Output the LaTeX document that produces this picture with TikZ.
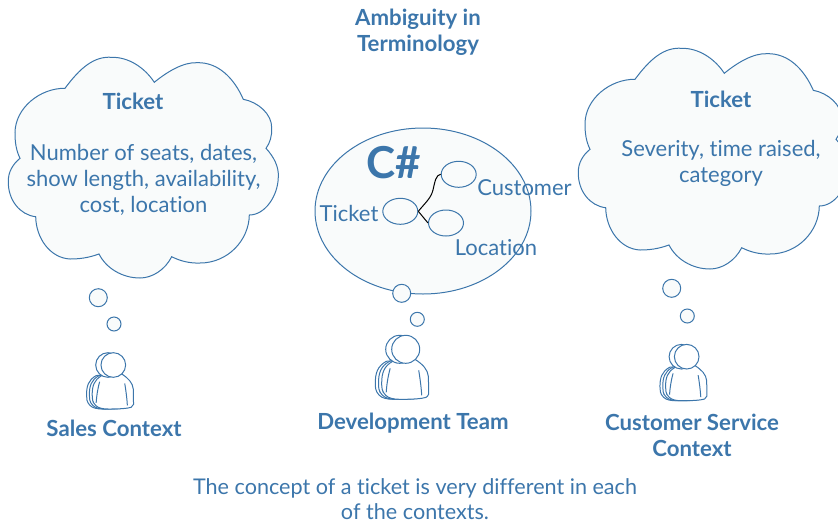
\documentclass[tikz,border=0pt]{standalone}
\usepackage{fontspec}
\setmainfont[Ligatures=NoCommon]{Lato}
\usetikzlibrary{shapes.geometric}
\definecolor{inkblue}{HTML}{3C76AB}
\definecolor{bubble}{HTML}{F9FBFB}
\tikzset{
  x=1pt,y=-1pt,
  outline/.style = {draw=inkblue,line width=1pt,fill=bubble},
  puff/.style = {circle,outline,inner sep=0pt},
  slot/.style = {ellipse,draw=inkblue,line width=1pt,minimum width=35pt,minimum height=26pt,inner sep=0pt},
  txt/.style = {text=inkblue,font=\fontsize{22}{26}\selectfont,align=center,inner sep=0pt},
  head/.style = {txt,font=\fontsize{22.2}{26}\selectfont\bfseries},
  cloud blob/.pic = {
    \draw[outline] (65,88.3)
      .. controls (80,68) and (94,56) .. (111.7,57.3) .. controls (129,57) and (145,68) .. (154.3,82.3)
      .. controls (168,71) and (184,62) .. (197,62.7) .. controls (218,62) and (234,78) .. (243.3,99.3)
      .. controls (258,102) and (272,114) .. (271.7,128) .. controls (272,136) and (270,143) .. (266,148.3)
      .. controls (274,157) and (279,167) .. (278.3,177) .. controls (278,196) and (265,215) .. (249.3,215)
      .. controls (249,240) and (228,263) .. (200,263) .. controls (190,263.5) and (180,261) .. (171.7,256.7)
      .. controls (165,270) and (152,278) .. (140,278) .. controls (122,278) and (106,268) .. (99,254)
      .. controls (88,258) and (79,259) .. (70,259) .. controls (50,258) and (36,238) .. (35.7,216.7)
      .. controls (20,215) and (8,200) .. (8.3,181.7) .. controls (8,172) and (13,164) .. (20,158.3)
      .. controls (16,150) and (15,142) .. (15,133) .. controls (15,108) and (40,88) .. (65,88.3) -- cycle;
  },
  person/.pic = {
    \foreach \m in {2,1,0} {%
      \begin{scope}[shift={({-\m*3.2},0)}]
        \draw[draw=inkblue,line width=1pt,fill=white] (9.3,10)
          .. controls (17,15) and (22,20) .. (22.7,27.3) -- (23,44.7)
          .. controls (22,48) and (19,49) .. (16,49) .. controls (8,50) and (2,50) .. (-5.7,50)
          .. controls (-12,50) and (-17,49) .. (-20,46) .. controls (-24,42) and (-24,38) .. (-24,34)
          .. controls (-24,24) and (-22,17) .. (-13,12) -- cycle;
        \draw[inkblue,line width=1pt] (-15.5,19) .. controls (-18,28) and (-19,36) .. (-19.5,43);
      \end{scope}
    }
    \draw[inkblue,line width=1pt] (13,21) .. controls (14.5,30) and (15.5,38) .. (16,46);
    \foreach \m in {2,0} {%
      \draw[draw=inkblue,line width=1pt,fill=white] ({-\m*3},0) circle (14);
    }
  }
}

\begin{document}
\begin{tikzpicture}
  \useasboundingbox (0,0) rectangle (838,523);
  \clip (0,0) rectangle (838,523);
  % title
  \node[head] (title) at (418,32) {Ambiguity in\\Terminology};
  % clouds
  \pic {cloud blob};
  \pic at (570,-9) {cloud blob};
  \node[head] (salesticket) at (133,101) {Ticket};
  \node[txt] (salesinfo) at (143.5,180) {Number of seats, dates,\\show length, availability,\\cost, location};
  \node[head] (serviceticket) at (721,99) {Ticket};
  \node[txt] (serviceinfo) at (721,163) {Severity, time raised,\\category};
  % development bubble
  \node[ellipse,outline,minimum width=216pt,minimum height=166pt,inner sep=0pt] (devbubble) at (423,211) {};
  \node[slot] (ticket) at (400.3,211.3) {};
  \node[slot] (customer) at (458.7,174.3) {};
  \node[slot] (location) at (446,223) {};
  \draw[black,line width=1pt] (ticket.east) .. controls (426,202) and (431,198) .. (433,190) .. controls (435,181) and (436,175) .. (customer.west);
  \draw[black,line width=1pt] (ticket.east) -- (location.west);
  \node[txt,font=\fontsize{44}{44}\selectfont\bfseries] (lang) at (393.5,163) {C\#};
  \node[txt] (ticketlabel) at (349,213) {Ticket};
  \node[txt] (customerlabel) at (524.5,188) {Customer};
  \node[txt] (locationlabel) at (496,248) {Location};
  % puffs
  \node[puff,minimum size=18pt] (salespuffa) at (98.3,297.7) {};
  \node[puff,minimum size=14pt] (salespuffb) at (114,324) {};
  \node[puff,minimum size=18pt] (devpuffa) at (401.7,293.3) {};
  \node[puff,minimum size=14pt] (devpuffb) at (417.3,319.3) {};
  \node[puff,minimum size=18pt] (servicepuffa) at (671.7,288.3) {};
  \node[puff,minimum size=14pt] (servicepuffb) at (687.3,316) {};
  % people
  \pic[scale=0.88] at (113.3,365) {person};
  \pic at (405.7,349.3) {person};
  \pic[scale=0.88] at (686.7,356.7) {person};
  \node[head] (sales) at (114,428.5) {Sales Context};
  \node[head] (dev) at (413,423) {Development Team};
  \node[head] (service) at (692,435) {Customer Service\\Context};
  % caption
  \node[txt,font=\fontsize{21.6}{25}\selectfont] (caption) at (415,499.5) {The concept of a ticket is very different in each\\of the contexts.};
\end{tikzpicture}
\end{document}
